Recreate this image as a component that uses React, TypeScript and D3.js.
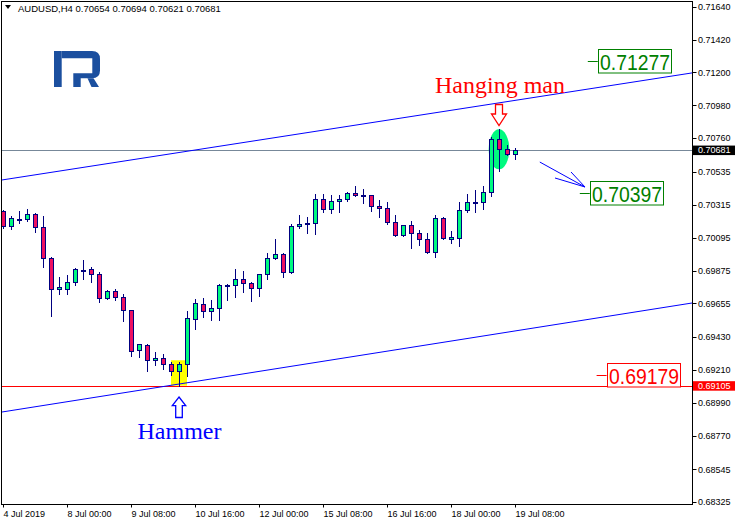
import React, { useEffect } from "react";
import * as d3 from "d3";

// ---- data (H4 bars, 4 Jul 2019 16:00 ... 19 Jul 2019 08:00) ----
const opens = [
  0.70273, 0.70175, 0.70218, 0.70218, 0.70253, 0.70168, 0.69957, 0.6975, 0.6975, 0.69797,
  0.6988, 0.69883, 0.6985, 0.69689, 0.69736, 0.69696, 0.69609, 0.69342, 0.69375, 0.69275,
  0.69288, 0.69248, 0.69201, 0.69248, 0.69552, 0.69652, 0.69603, 0.69623, 0.6977, 0.69776,
  0.69817, 0.6979, 0.69756, 0.6985, 0.69957, 0.69984, 0.69863, 0.70171, 0.70184, 0.70191,
  0.70352, 0.70285, 0.70338, 0.70352, 0.70392, 0.70378, 0.70378, 0.70305, 0.70291, 0.70198,
  0.70111, 0.70178, 0.70124, 0.70084, 0.69999, 0.70225, 0.70084, 0.70091, 0.70278, 0.70332,
  0.70332, 0.70399, 0.70753, 0.7069, 0.70654,
];
const highs = [
  0.7028, 0.7024, 0.70273, 0.70287, 0.7026, 0.7024, 0.69964, 0.6983, 0.69847, 0.6989,
  0.69944, 0.69897, 0.69863, 0.69743, 0.6975, 0.69716, 0.69612, 0.69385, 0.69383, 0.69328,
  0.69315, 0.69261, 0.69261, 0.69603, 0.69683, 0.6969, 0.69676, 0.69783, 0.69783, 0.69884,
  0.6987, 0.69797, 0.69853, 0.69991, 0.70084, 0.69991, 0.70185, 0.70245, 0.70231, 0.70385,
  0.70385, 0.70378, 0.70378, 0.70398, 0.70441, 0.70419, 0.70381, 0.70345, 0.70332, 0.70245,
  0.7018, 0.70205, 0.70144, 0.70124, 0.70245, 0.70231, 0.70138, 0.70332, 0.70385, 0.70412,
  0.70439, 0.70767, 0.7082, 0.70713, 0.70694,
];
const lows = [
  0.70162, 0.70155, 0.70191, 0.70209, 0.70135, 0.69901, 0.69573, 0.6972, 0.6972, 0.6978,
  0.69821, 0.698, 0.69667, 0.69684, 0.6968, 0.6954, 0.69306, 0.69299, 0.69205, 0.69241,
  0.69219, 0.69179, 0.69105, 0.69168, 0.69486, 0.69566, 0.69544, 0.69544, 0.6968, 0.697,
  0.69734, 0.69673, 0.69707, 0.69817, 0.6995, 0.6983, 0.69856, 0.70158, 0.70124, 0.70118,
  0.70265, 0.70258, 0.70265, 0.70338, 0.70372, 0.70325, 0.70271, 0.70235, 0.70185, 0.70104,
  0.70104, 0.70024, 0.70044, 0.69995, 0.69964, 0.70089, 0.70057, 0.70037, 0.70265, 0.70265,
  0.70285, 0.70372, 0.70539, 0.70648, 0.70621,
];
const closes = [
  0.70175, 0.70225, 0.70217, 0.70253, 0.70168, 0.69957, 0.6975, 0.69763, 0.69797, 0.69883,
  0.69879, 0.6985, 0.69689, 0.69736, 0.69696, 0.69609, 0.69335, 0.69382, 0.69275, 0.69288,
  0.69248, 0.69201, 0.69248, 0.69556, 0.69656, 0.69603, 0.69623, 0.69776, 0.69776, 0.69817,
  0.6979, 0.69756, 0.6985, 0.69957, 0.69984, 0.69863, 0.70171, 0.70184, 0.70191, 0.70352,
  0.70285, 0.70338, 0.70352, 0.70392, 0.70378, 0.70377, 0.70305, 0.70291, 0.70198, 0.70111,
  0.70178, 0.70124, 0.70084, 0.69997, 0.70225, 0.70091, 0.70098, 0.70278, 0.70332, 0.70331,
  0.70399, 0.70753, 0.7069, 0.70654, 0.70681,
];

const timeTickIndex = [0, 8, 16, 24, 32, 40, 48, 56, 64];
const timeTickLabels = [
  "4 Jul 2019", "8 Jul 00:00", "9 Jul 08:00", "10 Jul 16:00", "12 Jul 00:00",
  "15 Jul 08:00", "16 Jul 16:00", "18 Jul 00:00", "19 Jul 08:00",
];
const priceTicks = [
  0.7164, 0.7142, 0.712, 0.7098, 0.7076, 0.70535, 0.70315, 0.70095,
  0.69875, 0.69655, 0.6943, 0.6921, 0.6899, 0.6877, 0.68545, 0.68325,
];

const bidPrice = 0.70681;
const supportPrice = 0.69105;
const upperChannel: [number, number][] = [[0, 0.70482], [86, 0.71196]];
const lowerChannel: [number, number][] = [[0, 0.6893], [86, 0.69657]];
const targetLevels = [0.71277, 0.70397, 0.69179];
const targetColors = ["#008000", "#008000", "#ff0000"];
const targetBarPos = [73.1, 72.1, 74.2];
const forecastArrow: [number, number][] = [[67.1, 0.70601], [72.75, 0.70434]];
const hammerBox: [number, number, number, number] = [21, 23, 0.69275, 0.69105];

const W = 738;
const H = 525;
const PL = 1.5, PT = 1.5, PR = 692.5, PB = 504.5;

const x = d3.scaleLinear().domain([0, 64]).range([3, 515]);
const y = d3.scaleLinear().domain([0.68325, 0.7164]).range([502.3, 6.7]);
const py = (v: number) => Math.round(y(v)) + 0.5;

const BULL = "#00fa7f";
const BEAR = "#ee1060";
const NAVY = "#000080";

function channelPath(pts: [number, number][]) {
  const [a, b] = pts;
  const x1 = x(a[0]), y1 = y(a[1]), x2 = x(b[0]), y2 = y(b[1]);
  const s = (y2 - y1) / (x2 - x1);
  const xa = PL, xb = PR;
  return `M${xa},${y1 + s * (xa - x1)}L${xb},${y1 + s * (xb - x1)}`;
}

export default function App() {
  useEffect(() => {
    document.body.style.margin = "0";
  }, []);

  const fontSans = "Tahoma, 'Liberation Sans', Arial, sans-serif";
  const fontSerif = "'Liberation Serif', 'Times New Roman', serif";

  const candles = opens.map((o, i) => {
    const c = closes[i];
    const cx = x(i);
    const top = py(Math.max(o, c));
    const bot = Math.max(py(Math.min(o, c)), top + 1);
    return (
      <g key={i}>
        <line x1={cx + 0.5} x2={cx + 0.5} y1={py(highs[i]) - 0.5} y2={py(lows[i]) + 0.5} stroke={NAVY} strokeWidth={1} />
        <rect x={cx - 1.5} y={top} width={4} height={bot - top} fill={c >= o ? BULL : BEAR} stroke={NAVY} strokeWidth={1} />
      </g>
    );
  });

  const [fa, fb] = forecastArrow;
  const ax1 = x(fa[0]), ay1 = y(fa[1]), ax2 = x(fb[0]), ay2 = y(fb[1]);

  const hmX = x(62);
  const hX = x(22);

  return (
    <svg width={W} height={H} style={{ position: "absolute", left: 0, top: 0, display: "block", background: "#fff" }}>
      <defs>
        <clipPath id="plot">
          <rect x={PL} y={PT} width={PR - PL} height={PB - PT} />
        </clipPath>
      </defs>
      <rect x={0} y={0} width={W} height={H} fill="#fff" />

      {/* header */}
      <path d="M5,5 L11,5 L8,9 Z" fill="#000" />
      <text x={18} y={12} fontFamily={fontSans} fontSize={9.5} fill="#000">
        AUDUSD,H4  0.70654 0.70694 0.70621 0.70681
      </text>

      {/* logo */}
      <g fill="#1b4f9f">
        <rect x={54} y={51} width={7.7} height={36} />
        <path d="M61.7,51 H92 Q100,51 100,59 V70.5 Q100,78.3 92,78.3 H80.7 V87 H73.3 V73.3 H92.3 V58.3 H61.7 Z" />
        <path d="M87.5,78.3 L93.5,78.3 L99,87 L91.5,87 Z" />
      </g>

      <g clipPath="url(#plot)">
        {/* hammer highlight */}
        <rect
          x={x(hammerBox[0])}
          y={y(hammerBox[2])}
          width={x(hammerBox[1]) - x(hammerBox[0])}
          height={y(hammerBox[3]) - y(hammerBox[2])}
          fill="#ffff00"
        />
        {/* horizontal lines */}
        <line x1={PL} x2={PR} y1={py(bidPrice)} y2={py(bidPrice)} stroke="#778899" strokeWidth={1} />
        <line x1={PL} x2={PR} y1={py(supportPrice)} y2={py(supportPrice)} stroke="#ff0000" strokeWidth={1} />
        {/* channel */}
        <path d={channelPath(upperChannel)} stroke="#0000ff" strokeWidth={1} fill="none" />
        <path d={channelPath(lowerChannel)} stroke="#0000ff" strokeWidth={1} fill="none" />
        {/* hanging man ellipse */}
        <ellipse cx={hmX} cy={149.3} rx={10.3} ry={20} fill={BULL} />
        {candles}
        {/* forecast arrow */}
        <g stroke="#0000ff" strokeWidth={1} fill="none">
          <line x1={ax1} y1={ay1} x2={ax2} y2={ay2} />
          <line x1={ax2 - 30} y1={ay2 - 9} x2={ax2} y2={ay2} />
          <line x1={ax2 - 14} y1={ay2 - 15} x2={ax2} y2={ay2} />
        </g>
      </g>

      {/* annotations */}
      <text x={hmX + 1} y={93} textAnchor="middle" fontFamily={fontSerif} fontSize={24} fill="#ff0000">
        Hanging man
      </text>
      <path
        d={`M${hmX - 3.5},104.5 H${hmX + 3.5} V114 H${hmX + 7.5} L${hmX},125.5 L${hmX - 7.5},114 H${hmX - 3.5} Z`}
        fill="#fff"
        stroke="#ff0000"
        strokeWidth={1.3}
      />
      <path
        d={`M${hX},397 L${hX + 6.7},405.7 H${hX + 3.3} V417.5 H${hX - 3.3} V405.7 H${hX - 6.7} Z`}
        fill="#fff"
        stroke="#0000ff"
        strokeWidth={1.3}
      />
      <text x={hX + 0.5} y={439} textAnchor="middle" fontFamily={fontSerif} fontSize={24} fill="#0000ff">
        Hammer
      </text>

      {/* target labels */}
      {targetLevels.map((v, k) => {
        const lx = x(targetBarPos[k]);
        const ly = py(v);
        const col = targetColors[k];
        return (
          <g key={k}>
            <line x1={lx} x2={lx + 10} y1={ly} y2={ly} stroke={col} strokeWidth={1} />
            <rect x={Math.round(lx + 10) + 0.5} y={ly - 12} width={73} height={23.5} fill="#fff" stroke={col} strokeWidth={1} />
            <text
              x={Math.round(lx + 10) + 2}
              y={ly + 8.7}
              fontFamily="'Liberation Sans', Arial, sans-serif"
              fontSize={22.5}
              fill={col}
              textLength={70}
              lengthAdjust="spacingAndGlyphs"
            >
              {v.toFixed(5)}
            </text>
          </g>
        );
      })}

      {/* frame */}
      <rect x={PL} y={PT} width={PR - PL} height={PB - PT} fill="none" stroke="#000" strokeWidth={1} />

      {/* price axis */}
      {priceTicks.map((v, k) => (
        <g key={k}>
          <line x1={PR} x2={PR + 4} y1={py(v)} y2={py(v)} stroke="#000" strokeWidth={1} />
          <text x={698} y={y(v)} dy="0.35em" fontFamily={fontSans} fontSize={9} fill="#000">
            {v.toFixed(5)}
          </text>
        </g>
      ))}
      <rect x={693} y={y(bidPrice) - 4.5} width={42} height={9.5} fill="#000" />
      <text x={698} y={y(bidPrice)} dy="0.35em" fontFamily={fontSans} fontSize={9} fill="#fff">
        {bidPrice.toFixed(5)}
      </text>
      <rect x={693} y={y(supportPrice) - 4.5} width={42} height={9.5} fill="#ff0000" />
      <text x={698} y={y(supportPrice)} dy="0.35em" fontFamily={fontSans} fontSize={9} fill="#fff">
        {supportPrice.toFixed(5)}
      </text>

      {/* time axis */}
      {timeTickIndex.map((t, k) => (
        <g key={k}>
          <line x1={x(t) + 0.5} x2={x(t) + 0.5} y1={PB} y2={PB + 3} stroke="#000" strokeWidth={1} />
          <text x={x(t) + 0.5} y={517.3} fontFamily={fontSans} fontSize={9} fill="#000">
            {timeTickLabels[k]}
          </text>
        </g>
      ))}
    </svg>
  );
}
